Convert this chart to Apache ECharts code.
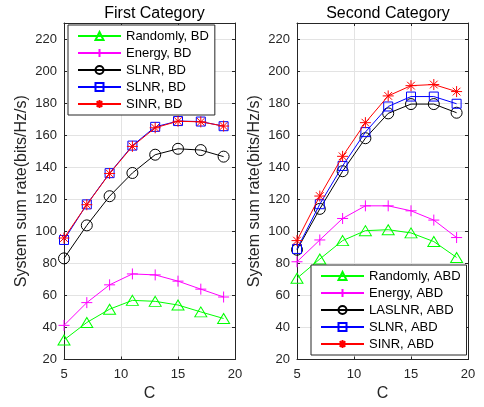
<!DOCTYPE html>
<html>
<head>
<meta charset="utf-8">
<script src="https://cdn.jsdelivr.net/npm/echarts@6/dist/echarts.min.js"></script>
<style>
html,body{margin:0;padding:0;background:#fff;}
#chart{width:484px;height:407px;}
</style>
</head>
<body>
<div id="chart"></div>
<script>
// ---- data ----
var xValues = [5, 7, 9, 11, 13, 15, 17, 19];

var titleLeft = 'First Category';
var titleRight = 'Second Category';
var yAxisName = 'System sum rate(bits/Hz/s)';
var xAxisName = 'C';

var leftNames = ['Randomly, BD', 'Energy, BD', 'SLNR, BD', 'SLNR, BD\u200b', 'SINR, BD'];
var randBD   = [32.2, 43.1, 51.4, 56.9, 56.3, 54.0, 49.7, 45.6];
var energyBD = [41.3, 55.5, 66.6, 73.4, 72.8, 68.9, 63.9, 59.0];
var slnrBlackBD = [83.1, 103.7, 121.9, 136.4, 147.8, 151.5, 150.7, 146.6];
var slnrBlueBD  = [94.6, 116.8, 136.3, 153.5, 165.2, 168.8, 168.5, 165.6];
var sinrBD      = [95.8, 116.6, 136.1, 153.0, 164.6, 168.7, 168.3, 165.7];

var rightNames = ['Randomly, ABD', 'Energy, ABD', 'LASLNR, ABD', 'SLNR, ABD', 'SINR, ABD'];
var randABD    = [70.7, 82.7, 94.2, 100.4, 101.0, 99.0, 93.6, 83.7];
var energyABD  = [81.0, 94.6, 108.0, 115.9, 115.9, 112.8, 107.0, 96.1];
var laslnrABD  = [88.5, 114.0, 137.5, 158.1, 173.6, 179.4, 179.4, 174.0];
var slnrABD    = [89.0, 116.9, 140.8, 161.9, 177.9, 184.1, 184.1, 179.6];
var sinrABD    = [94.2, 122.0, 146.8, 167.8, 184.5, 190.9, 191.6, 187.2];

var xTicks = {min: 5, max: 20, interval: 5};
var yTicks = {min: 20, max: 230, interval: 20};

// ---- styles ----
var colors = ['#00ff00', '#ff00ff', '#000000', '#0000ff', '#ff0000'];
var symbols = [
  'path://M5,0 L10,8.66 L0,8.66 Z',
  'path://M5,0 L5,10 M0,5 L10,5',
  'path://M10,5 A5,5 0 1,1 0,5 A5,5 0 1,1 10,5 Z',
  'path://M0,0 L10,0 L10,10 L0,10 Z',
  'path://M5,0 L5,10 M0,5 L10,5 M1.5,1.5 L8.5,8.5 M8.5,1.5 L1.5,8.5'
];
var symbolSizes = [[12, 10], 11, 11, 9, 11];
var axisColor = '#262626';
var gridColor = '#e3e3e3';
var fontFam = 'Liberation Sans, Arial, sans-serif';

function pairs(ys) { return xValues.map(function (x, i) { return [x, ys[i]]; }); }

function makeSeries(names, arrays, gi) {
  return names.map(function (n, i) {
    return {
      name: n, type: 'line', xAxisIndex: gi * 2, yAxisIndex: gi * 2,
      data: pairs(arrays[i]),
      symbol: symbols[i], symbolSize: symbolSizes[i],
      showAllSymbol: true,
      lineStyle: {color: colors[i], width: 1},
      itemStyle: {color: 'rgba(0,0,0,0)', borderColor: colors[i], borderWidth: 1},
      emphasis: {disabled: true},
      z: 2 + i
    };
  });
}

var grids = [
  {left: 64, right: 249, top: 23, bottom: 47.5},
  {left: 297, right: 16, top: 23, bottom: 47.5}
];

var xAxes = [], yAxes = [];
grids.forEach(function (g, gi) {
  xAxes.push({
    type: 'value', gridIndex: gi, min: xTicks.min, max: xTicks.max, interval: xTicks.interval,
    name: xAxisName, nameLocation: 'middle', nameGap: 25,
    nameTextStyle: {fontSize: 16, color: axisColor, fontFamily: fontFam},
    axisLine: {lineStyle: {color: axisColor, width: 1}},
    axisTick: {inside: true, length: 3, lineStyle: {color: axisColor}},
    axisLabel: {fontSize: 13, color: axisColor, margin: 8, fontFamily: fontFam},
    splitLine: {show: true, lineStyle: {color: gridColor, width: 1}}
  });
  xAxes.push({
    type: 'value', gridIndex: gi, position: 'top', min: xTicks.min, max: xTicks.max, interval: xTicks.interval,
    axisLine: {lineStyle: {color: axisColor, width: 1}},
    axisTick: {inside: true, length: 3, lineStyle: {color: axisColor}},
    axisLabel: {show: false}, splitLine: {show: false}
  });
  yAxes.push({
    type: 'value', gridIndex: gi, min: yTicks.min, max: yTicks.max, interval: yTicks.interval,
    name: yAxisName, nameLocation: 'middle', nameGap: 34,
    nameTextStyle: {fontSize: 16, color: axisColor, fontFamily: fontFam},
    axisLine: {show: true, lineStyle: {color: axisColor, width: 1}},
    axisTick: {show: true, inside: true, length: 3, lineStyle: {color: axisColor}},
    axisLabel: {fontSize: 13, color: axisColor, margin: 7, showMaxLabel: false, fontFamily: fontFam},
    splitLine: {show: true, lineStyle: {color: gridColor, width: 1}}
  });
  yAxes.push({
    type: 'value', gridIndex: gi, position: 'right', min: yTicks.min, max: yTicks.max, interval: yTicks.interval,
    axisLine: {show: true, lineStyle: {color: axisColor, width: 1}},
    axisTick: {show: true, inside: true, length: 3, lineStyle: {color: axisColor}},
    axisLabel: {show: false}, splitLine: {show: false}
  });
});

var legendCommon = {
  orient: 'vertical', backgroundColor: '#fff', borderColor: axisColor, borderWidth: 1,
  padding: [4, 6, 4, 9], itemWidth: 43, itemHeight: 10, itemGap: 3,
  textStyle: {fontSize: 13, color: '#000', lineHeight: 14, fontFamily: fontFam},
  selectedMode: false,
  formatter: function (n) { return n.replace('\u200b', ''); }
};

var option = {
  animation: false,
  backgroundColor: '#fff',
  title: [
    {text: titleLeft, left: 149.5, top: 1, textAlign: 'center',
     textStyle: {fontSize: 16, fontWeight: 'normal', color: '#000', fontFamily: fontFam}},
    {text: titleRight, left: 383, top: 1, textAlign: 'center',
     textStyle: {fontSize: 16, fontWeight: 'normal', color: '#000', fontFamily: fontFam}}
  ],
  grid: grids,
  xAxis: xAxes,
  yAxis: yAxes,
  legend: [
    Object.assign({}, legendCommon, {left: 68, top: 25, data: leftNames}),
    Object.assign({}, legendCommon, {left: 311, top: 265, data: rightNames})
  ],
  series: makeSeries(leftNames, [randBD, energyBD, slnrBlackBD, slnrBlueBD, sinrBD], 0)
    .concat(makeSeries(rightNames, [randABD, energyABD, laslnrABD, slnrABD, sinrABD], 1))
};

var chart = echarts.init(document.getElementById('chart'), null, {renderer: 'canvas'});
chart.setOption(option);
</script>
</body>
</html>
